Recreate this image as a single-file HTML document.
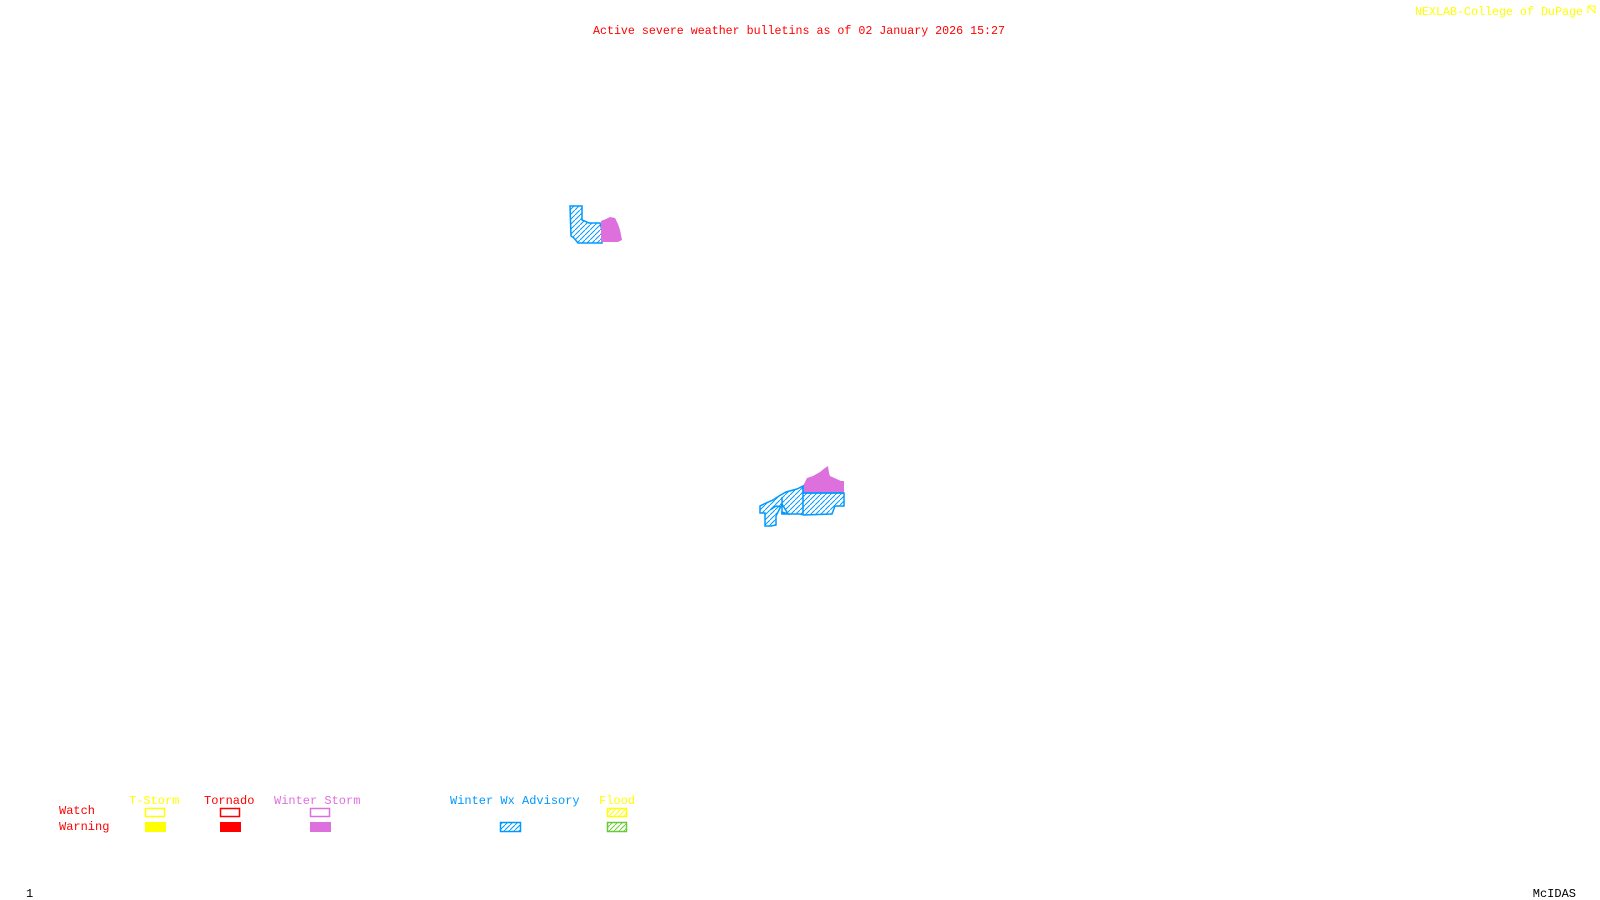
<!DOCTYPE html>
<html><head><meta charset="utf-8"><style>
html,body{margin:0;padding:0;background:#fff;width:1600px;height:900px;overflow:hidden}
svg{display:block}
text{font-family:"Liberation Mono",monospace;font-size:12px}
</style></head><body>
<svg width="1600" height="900" viewBox="0 0 1600 900" xmlns="http://www.w3.org/2000/svg">
<defs>
<pattern id="hb" width="5" height="5" patternUnits="userSpaceOnUse"><path d="M-1,6 L6,-1" stroke="#0099ff" stroke-width="1"/></pattern>
<pattern id="hy" width="5" height="5" patternUnits="userSpaceOnUse"><path d="M-1,6 L6,-1" stroke="#ffff00" stroke-width="1"/></pattern>
<pattern id="hg" width="5" height="5" patternUnits="userSpaceOnUse"><path d="M-1,6 L6,-1" stroke="#66cc33" stroke-width="1"/></pattern>
</defs>
<text x="593" y="34" fill="#ff0000" textLength="412" lengthAdjust="spacingAndGlyphs">Active severe weather bulletins as of 02 January 2026 15:27</text>
<text x="1415" y="15" fill="#ffff00" textLength="168" lengthAdjust="spacingAndGlyphs">NEXLAB-College of DuPage</text>
<path d="M1588,6 h7 v7 M1588,6 l7,7 M1588,6 v7" stroke="#ffff00" fill="none"/>

<!-- shape 1 -->
<path d="M570,206 L582,206 L582,220 L589,223 L600,223 L602,230 L602,243 L578,243 L574,238 L571,236 Z" fill="url(#hb)" stroke="#0099ff" stroke-width="1.5"/>
<path d="M601,221 L606,219 L610,217 L615,218 L618,224 L620,230 L622,240 L618,242 L601,242 Z" fill="#dd70dd"/>

<!-- shape 2 -->
<path d="M803,486 L807,478 L813,476 L820,472 L825,468 L828,466 L829,473 L830,476 L841,481 L844,481 L844,493 L803,493 Z" fill="#dd70dd"/>
<path d="M803,493 L844,493 L844,506 L835,506 L832,514 L804,515 L800,514 L782,514 L782,512 L788,514 L782,504 L776,516 L776,525 L771,526 L765,526 L765,513 L760,513 L760,506 L766,503 L773,500 L779,496 L786,492 L797,489 L803,486 Z" fill="url(#hb)" stroke="#0099ff" stroke-width="1.5"/>
<path d="M803,486 L803,515 M782,497 L782,514 M770,510 L776,506 L782,507 M803,493 L844,493" stroke="#0099ff" stroke-width="1.5" fill="none"/>

<!-- legend -->
<text x="129" y="804" fill="#ffff00">T-Storm</text>
<text x="204" y="804" fill="#ff0000">Tornado</text>
<text x="274" y="804" fill="#dd70dd">Winter Storm</text>
<text x="450" y="804" fill="#0099ff">Winter Wx Advisory</text>
<text x="599" y="804" fill="#ffff00">Flood</text>
<text x="59" y="814" fill="#ff0000">Watch</text>
<text x="59" y="830" fill="#ff0000">Warning</text>

<rect x="145.5" y="808.5" width="19" height="8" fill="none" stroke="#ffff00" stroke-width="1.5"/>
<rect x="220.5" y="808.5" width="19" height="8" fill="none" stroke="#ff0000" stroke-width="1.5"/>
<rect x="310.5" y="808.5" width="19" height="8" fill="none" stroke="#dd70dd" stroke-width="1.5"/>
<rect x="607.5" y="808.5" width="19" height="8" fill="url(#hy)" stroke="#ffff00" stroke-width="1.5"/>

<rect x="145" y="822" width="21" height="10" fill="#ffff00"/>
<rect x="220" y="822" width="21" height="10" fill="#ff0000"/>
<rect x="310" y="822" width="21" height="10" fill="#dd70dd"/>
<rect x="500.5" y="822.5" width="20" height="9" fill="url(#hb)" stroke="#0099ff" stroke-width="1.5"/>
<rect x="607.5" y="822.5" width="19" height="9" fill="url(#hg)" stroke="#66cc33" stroke-width="1.5"/>

<text x="26" y="897" fill="#000">1</text>
<text x="1576" y="897" fill="#000" text-anchor="end">McIDAS</text>
</svg>
</body></html>
